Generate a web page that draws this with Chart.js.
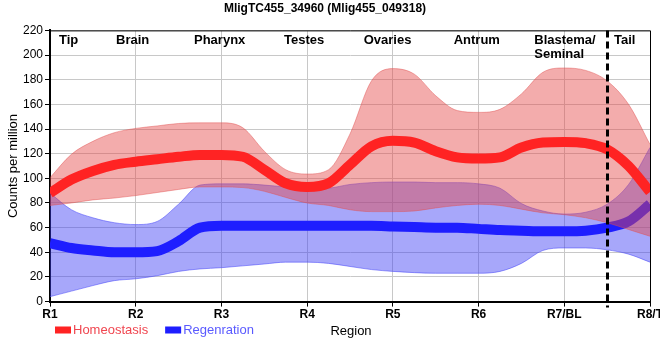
<!DOCTYPE html>
<html>
<head>
<meta charset="utf-8">
<script src="https://cdn.jsdelivr.net/npm/chart.js@4.4.0/dist/chart.umd.min.js"></script>
<style>
  html, body { margin: 0; padding: 0; background: #fff; }
</style>
</head>
<body>
<canvas id="myChart" width="660" height="360"></canvas>
<script>
let chartTitle = "MligTC455_34960 (Mlig455_049318)";
let categories = ["R1", "R2", "R3", "R4", "R5", "R6", "R7/BL", "R8/T"];
// readings every quarter region, R1 .. R8/T
let steps = [];
for (let i = 0; i <= 28; i++) steps.push(i / 4);
let homMean  = [88, 99, 106, 111, 113.5, 115.5, 117.5, 119, 119, 117.5, 107, 96, 93, 96, 111, 126, 130.5, 129, 122, 117, 116, 117, 125, 129, 129.5, 128.5, 123.5, 110, 89];
let homUpper = [100.5, 119.5, 130, 137, 140.5, 142.5, 144.5, 145, 145, 141, 122, 107, 103.5, 107, 136, 179, 189, 184.5, 167, 155, 153.5, 156, 168.5, 186, 189.5, 187.5, 179, 160, 127.5];
let homLower = [78, 80, 82.5, 84, 86, 88.5, 91, 93, 93, 92.5, 89.5, 84.5, 80, 78, 74.5, 73, 73, 73.5, 76, 78, 79, 78, 75, 72, 70.5, 68, 64, 58.5, 53];
let regMean  = [47.5, 43.5, 41.5, 40, 40, 41, 49, 60, 61.5, 61.5, 61.5, 61.5, 61.5, 61.5, 61.5, 61.5, 61, 60.5, 60, 60, 59, 58, 57.5, 57, 57, 57.5, 60, 65, 79];
let regUpper = [88, 74.5, 68, 64, 62.5, 65, 79, 94.5, 95.5, 95.5, 94.5, 93, 91.5, 92, 95, 96.5, 97, 97, 96.5, 96.5, 95.5, 92, 79.5, 73.5, 71, 72.5, 79, 95, 125];
let regLower = [4, 8.5, 13, 17, 18.5, 21, 24.5, 26.5, 27.5, 29, 30.5, 32, 32, 31, 28.5, 26, 24.5, 23.5, 23, 23, 23, 24.5, 31, 41.5, 43.5, 43.5, 42, 38.5, 32];
let yTicks = [0, 20, 40, 60, 80, 100, 120, 140, 160, 180, 200, 220];
let tissues = ["Tip", "Brain", "Pharynx", "Testes", "Ovaries", "Antrum", "Blastema/\nSeminal", "Tail"];
let tissueAt = [0.105, 0.77, 1.68, 2.73, 3.66, 4.71, 5.65, 6.58];
let tailBoundary = 6.5;

const pts = (arr) => arr.map((v, i) => ({ x: steps[i], y: v }));
const FONT = "'Liberation Sans', Arial, sans-serif";
Chart.defaults.font.family = FONT;
Chart.defaults.color = "#000";

const extras = {
  id: "extras",
  afterDraw(chart) {
    const c = chart.ctx;
    const a = chart.chartArea;
    const xs = chart.scales.x;
    c.save();
    // frame top / right
    c.strokeStyle = "#000";
    c.lineWidth = 1;
    c.beginPath();
    c.moveTo(a.left, a.top + 0.5);
    c.lineTo(a.right + 0.5, a.top + 0.5);
    c.lineTo(a.right + 0.5, a.bottom);
    c.stroke();
    // tail boundary
    let bx = Math.round(xs.getPixelForValue(tailBoundary)) + 0.5;
    c.setLineDash([7, 4]);
    c.lineWidth = 3;
    c.beginPath();
    c.moveTo(bx, a.top);
    c.lineTo(bx, a.bottom + 6);
    c.stroke();
    c.setLineDash([]);
    // tissue names
    c.fillStyle = "#000";
    c.font = "bold 13px " + FONT;
    c.textAlign = "left";
    c.textBaseline = "middle";
    tissues.forEach((t, i) => {
      t.split("\n").forEach((line, j) => {
        c.fillText(line, xs.getPixelForValue(tissueAt[i]), a.top + 10 + j * 14);
      });
    });
    // legend
    let lx = 55, ly = 330;
    c.font = "13px " + FONT;
    [0, 3].forEach((di) => {
      const ds = chart.data.datasets[di];
      c.fillStyle = ds.borderColor;
      c.fillRect(lx, ly - 3.5, 16, 7);
      c.fillStyle = ds.legendText;
      c.fillText(ds.label, lx + 18, ly);
      lx += 18 + c.measureText(ds.label).width + 17;
    });
    // x axis title
    c.fillStyle = "#000";
    c.textAlign = "center";
    c.fillText("Region", (a.left + a.right) / 2 + 1, ly + 1);
    c.restore();
  }
};

let ctx = document.getElementById("myChart");
let myChart = new Chart(ctx, {
  type: "line",
  data: {
    datasets: [
      {
        label: "Homeostasis",
        data: pts(homMean),
        borderColor: "rgb(255, 35, 35)",
        legendText: "rgb(240, 70, 80)",
        borderWidth: 10,
        fill: false,
      },
      {
        label: "hom-upper",
        data: pts(homUpper),
        borderColor: "rgba(225, 80, 80, 0.45)",
        backgroundColor: "rgba(228, 70, 70, 0.45)",
        borderWidth: 1,
        fill: "+1",
      },
      {
        label: "hom-lower",
        data: pts(homLower),
        borderColor: "rgba(225, 80, 80, 0.45)",
        borderWidth: 1,
        fill: false,
      },
      {
        label: "Regenration",
        data: pts(regMean),
        borderColor: "rgb(30, 30, 255)",
        legendText: "rgb(90, 90, 255)",
        borderWidth: 10,
        fill: false,
      },
      {
        label: "reg-upper",
        data: pts(regUpper),
        borderColor: "rgba(80, 80, 250, 0.55)",
        backgroundColor: "rgba(60, 60, 245, 0.45)",
        borderWidth: 1,
        fill: "+1",
      },
      {
        label: "reg-lower",
        data: pts(regLower),
        borderColor: "rgba(80, 80, 250, 0.55)",
        borderWidth: 1,
        fill: false,
      },
    ],
  },
  options: {
    responsive: false,
    animation: false,
    elements: {
      point: { radius: 0 },
      line: { cubicInterpolationMode: "monotone", borderCapStyle: "butt" },
    },
    layout: { padding: { left: 0, right: 10, top: 0, bottom: 37 } },
    plugins: {
      legend: { display: false },
      tooltip: { enabled: false },
      title: {
        display: true,
        text: chartTitle,
        font: { size: 12, weight: "bold" },
        color: "#000",
        padding: { top: 1, bottom: 15 },
      },
    },
    scales: {
      x: {
        type: "linear",
        min: 0,
        max: categories.length - 1,
        afterBuildTicks: (s) => { s.ticks = categories.map((c, i) => ({ value: i })); },
        afterFit: (s) => { s.paddingRight = 0; s.paddingLeft = 0; },
        ticks: {
          callback: (v) => categories[v],
          font: { size: 12, weight: "bold" },
          color: "#000",
          padding: 1,
          maxRotation: 0,
        },
        grid: { color: "#c8c8c8", tickColor: "#000", tickLength: 5 },
        border: { color: "#000", width: 2 },
      },
      y: {
        min: 0,
        max: 220,
        afterBuildTicks: (s) => { s.ticks = yTicks.map((v) => ({ value: v })); },
        afterFit: (s) => { s.width = 50; },
        ticks: { font: { size: 12 }, color: "#000", padding: 2 },
        grid: { color: "#c8c8c8", tickColor: "#000", tickLength: 5 },
        border: { color: "#000", width: 2 },
        title: {
          display: true,
          text: "Counts per million",
          font: { size: 13 },
          color: "#000",
          padding: { top: 6, bottom: 0 },
        },
      },
    },
  },
  plugins: [extras],
});
</script>
</body>
</html>
